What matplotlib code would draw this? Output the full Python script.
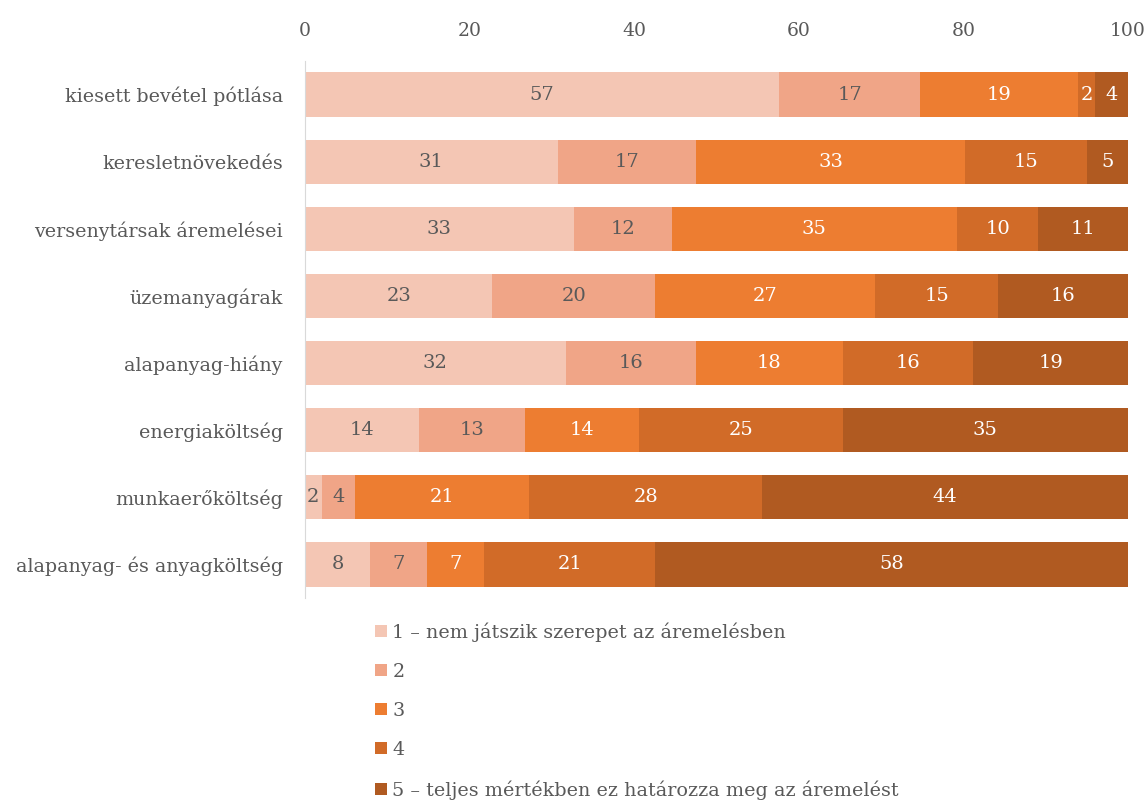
import matplotlib.pyplot as plt
from matplotlib.patches import Patch
import numpy as np

categories = ['kiesett bevétel pótlása', 'keresletnövekedés', 'versenytársak áremelései',
              'üzemanyagárak', 'alapanyag-hiány', 'energiaköltség', 'munkaerőköltség',
              'alapanyag- és anyagköltség']
s1 = [57, 31, 33, 23, 32, 14, 2, 8]
s2 = [17, 17, 12, 20, 16, 13, 4, 7]
s3 = [19, 33, 35, 27, 18, 14, 21, 7]
s4 = [2, 15, 10, 15, 16, 25, 28, 21]
s5 = [4, 5, 11, 16, 19, 35, 44, 58]
legend_labels = ['1 – nem játszik szerepet az áremelésben', '2', '3', '4',
                 '5 – teljes mértékben ez határozza meg az áremelést']

colors = ['#F4C6B4', '#F0A587', '#ED7D31', '#D16B28', '#B05A21']
text_colors = ['#595959', '#595959', 'white', 'white', 'white']

plt.rcParams['font.family'] = ['DejaVu Serif']

data = np.array([s1, s2, s3, s4, s5], dtype=float)
# 100% stacked: each row normalised to its total
shares = data / data.sum(axis=0) * 100

fig = plt.figure(figsize=(11.47, 8.01), dpi=100)
ax = fig.add_axes([305 / 1147, 1 - 598 / 801, 823 / 1147, 537 / 801])

y = np.arange(len(categories))
left = np.zeros(len(categories))
for i in range(5):
    ax.barh(y, shares[i], left=left, height=0.66, color=colors[i], edgecolor='none')
    for j in range(len(categories)):
        ax.text(left[j] + shares[i][j] / 2, y[j], str(int(data[i][j])),
                ha='center', va='center', fontsize=14, color=text_colors[i])
    left += shares[i]

ax.set_xlim(0, 100)
ax.set_ylim(7.5, -0.5)
ax.set_yticks(y)
ax.set_yticklabels(categories, fontsize=13.7, color='#595959')
ax.set_xticks([0, 20, 40, 60, 80, 100])
ax.xaxis.tick_top()
ax.tick_params(axis='x', length=0, labelsize=13.5, labelcolor='#595959', pad=15)
ax.tick_params(axis='y', length=0, pad=16)
for side in ['top', 'right', 'bottom']:
    ax.spines[side].set_visible(False)
ax.spines['left'].set_color('#D9D9D9')

handles = [Patch(facecolor=c, edgecolor='none') for c in colors]
fig.legend(handles, legend_labels, loc='upper left', bbox_to_anchor=(358 / 1147, 1 - 605 / 801),
           frameon=False, fontsize=13.8, labelcolor='#595959', handlelength=0.6, handleheight=0.6,
           handletextpad=0.3, labelspacing=1.1)

fig.savefig('out.png', dpi=100)
